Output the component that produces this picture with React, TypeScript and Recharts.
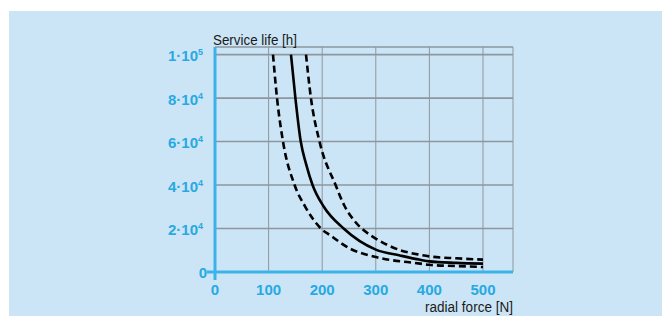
import { LineChart, Line, XAxis, YAxis, CartesianGrid } from 'recharts';

// radial force [N] vs. service life [h]
const solidForce = [141.8, 150, 160, 170, 182, 203, 240, 300, 345, 383, 400, 450, 500];
const solidLife = [100000, 80000, 60000, 49600, 40000, 30000, 20000, 10300, 7600, 5600, 4900, 4200, 3850];

const lowerForce = [108.2, 115.7, 126.9, 148.5, 168.5, 197.7, 215, 252, 300, 383, 400, 450, 500];
const lowerLife = [100000, 80000, 60000, 40000, 30000, 20000, 16870, 10750, 6900, 3860, 3300, 2750, 2300];

const upperForce = [169.8, 179, 195, 225, 241, 262, 290, 300, 346, 383, 400, 450, 500];
const upperLife = [100000, 80000, 60000, 40000, 30700, 23000, 16900, 15350, 9980, 7900, 7200, 6300, 5700];

const xTicks = [0, 100, 200, 300, 400, 500];
const yTicks = [0, 20000, 40000, 60000, 80000, 100000];
const yTickBase = ['0', '2·10', '4·10', '6·10', '8·10', '1·10'];
const yTickExp = ['', '4', '4', '4', '4', '5'];

const toPoints = (f: number[], l: number[]) => f.map((v, i) => ({ force: v, life: l[i] }));
const solidData = toPoints(solidForce, solidLife);
const lowerData = toPoints(lowerForce, lowerLife);
const upperData = toPoints(upperForce, upperLife);

const BLUE = '#3bb3ea';
const LABEL_BLUE = '#27a9e1';
const GRID = '#8d979d';
const FONT = '"Liberation Sans", Arial, sans-serif';

const XTick = ({ x, y, payload }: any) => (
    <g>
        {payload.value === 0 && (
            <line x1={x} x2={x} y1={y - 12} y2={y - 4} stroke={BLUE} strokeWidth={3} />
        )}
        <text x={x} y={y} dy={10.5} textAnchor="middle" fill={LABEL_BLUE} fontSize={15} fontWeight="bold" fontFamily={FONT}>
            {payload.value}
        </text>
    </g>
);

const YTick = ({ x, y, payload }: any) => {
    const i = yTicks.indexOf(payload.value);
    if (payload.value === 0) {
        return (
            <g>
                <line x1={x + 4} x2={x + 12} y1={y} y2={y} stroke={BLUE} strokeWidth={3} />
                <text x={x + 4} y={y} dy={5.6} textAnchor="end" fill={LABEL_BLUE} fontSize={15} fontWeight="bold" fontFamily={FONT}>
                    0
                </text>
            </g>
        );
    }
    return (
        <text x={x} y={y} dy={6.5} textAnchor="end" fill={LABEL_BLUE} fontSize={15} fontWeight="bold" fontFamily={FONT}>
            {yTickBase[i]}
            <tspan fontSize={9} dy={-6}>{yTickExp[i]}</tspan>
        </text>
    );
};

export default function App() {
    return (
        <div style={{ position: 'fixed', left: 0, top: 0, width: 662, height: 316, background: '#fff', overflow: 'hidden' }}>
            <div style={{ position: 'absolute', left: 9, top: 11, width: 653, height: 305, background: '#cbe5f7' }} />
            <div style={{ position: 'absolute', left: 0, top: 0 }}>
                <LineChart width={662} height={316} margin={{ top: 47, right: 149, left: 155, bottom: 0 }}>
                    <CartesianGrid vertical={false} stroke={GRID} strokeWidth={1.6} />
                    <CartesianGrid horizontal={false} stroke={GRID} strokeWidth={1} />
                    <XAxis
                        type="number"
                        dataKey="force"
                        domain={[0, 556]}
                        ticks={xTicks}
                        height={44}
                        axisLine={{ stroke: BLUE, strokeWidth: 3 }}
                        tickLine={false}
                        tickSize={6}
                        tickMargin={6}
                        tick={<XTick />}
                        allowDataOverflow
                    />
                    <YAxis
                        type="number"
                        dataKey="life"
                        domain={[0, 103500]}
                        ticks={yTicks}
                        width={60}
                        axisLine={{ stroke: BLUE, strokeWidth: 3 }}
                        tickLine={false}
                        tickSize={6}
                        tickMargin={6}
                        tick={<YTick />}
                        allowDataOverflow
                    />
                    <Line data={lowerData} dataKey="life" type="monotone" stroke="#000" strokeWidth={2.6}
                        strokeDasharray="7 4" dot={false} isAnimationActive={false} />
                    <Line data={upperData} dataKey="life" type="monotone" stroke="#000" strokeWidth={2.6}
                        strokeDasharray="7 4" dot={false} isAnimationActive={false} />
                    <Line data={solidData} dataKey="life" type="monotone" stroke="#000" strokeWidth={2.6}
                        dot={false} isAnimationActive={false} />
                </LineChart>
            </div>
            <svg width={662} height={316} style={{ position: 'absolute', left: 0, top: 0, pointerEvents: 'none' }}>
                <text x={213} y={45} fontSize={14} fontFamily={FONT} fill="#1a1a1a" textLength={84} lengthAdjust="spacingAndGlyphs">
                    Service life [h]
                </text>
                <text x={425} y={312} fontSize={14} fontFamily={FONT} fill="#1a1a1a" textLength={88} lengthAdjust="spacingAndGlyphs">
                    radial force [N]
                </text>
            </svg>
        </div>
    );
}
